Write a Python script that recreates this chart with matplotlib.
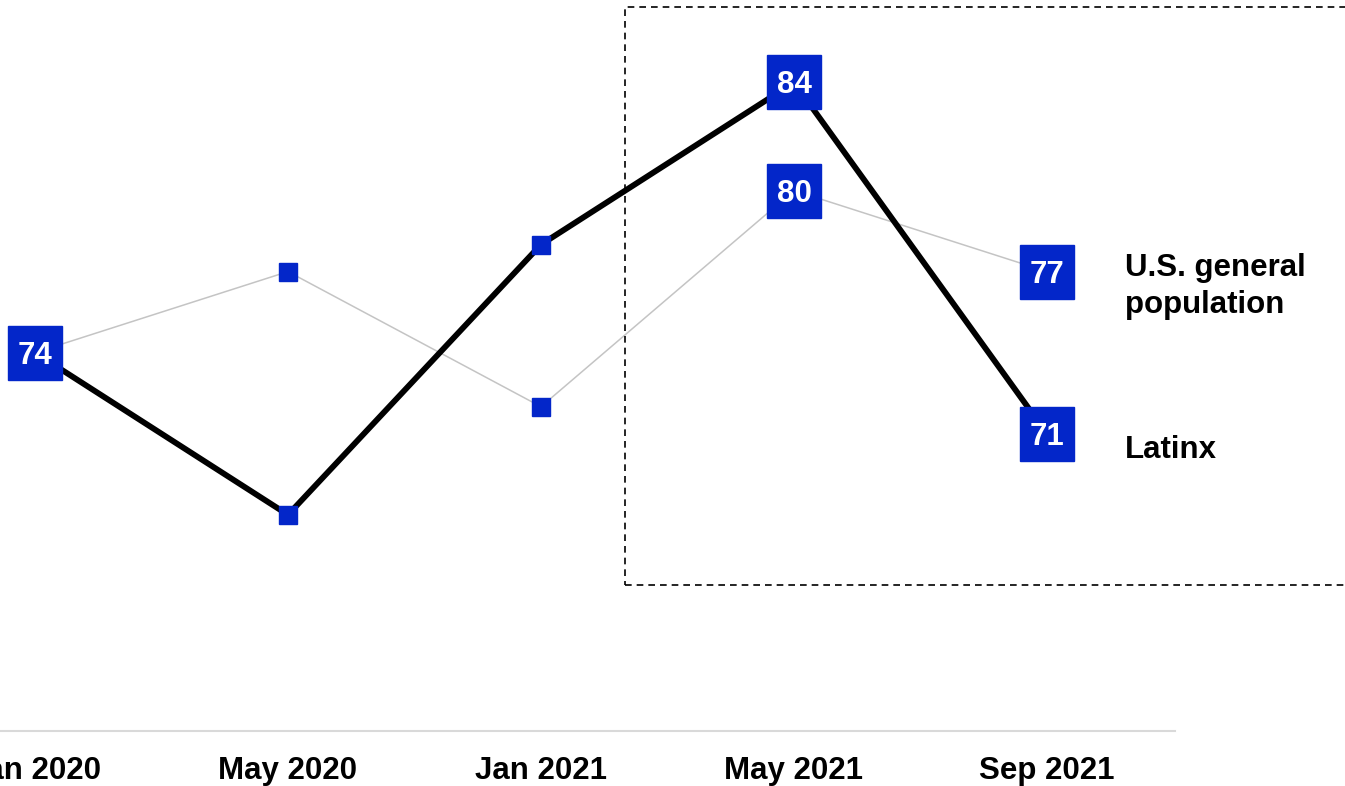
import matplotlib
matplotlib.use("Agg")
import matplotlib.pyplot as plt
from matplotlib.patches import Rectangle
from matplotlib.transforms import offset_copy

plt.rcParams['font.family'] = ['Liberation Sans', 'DejaVu Sans']

categories = ["Jan 2020", "May 2020", "Jan 2021", "May 2021", "Sep 2021"]
latinx = [74, 68, 78, 84, 71]
general = [74, 77, 72, 80, 77]
latinx_labeled = [0, 3, 4]
general_labeled = [3, 4]
series_names = ["U.S. general\npopulation", "Latinx"]

BLUE = "#0326C9"
W, H = 1345, 786
fig = plt.figure(figsize=(W / 100, H / 100), dpi=100)
ax = fig.add_axes([0, 55 / H, 1175 / W, 731 / H])

x = list(range(len(categories)))
ax.plot(x, general, color="#C4C4C4", lw=1.1, zorder=2)
ax.plot(x, latinx, color="black", lw=4.2, zorder=3, solid_capstyle="butt")

txt_tr = offset_copy(ax.transData, fig=fig, x=0, y=-3, units="dots")
for series, labeled in ((general, general_labeled), (latinx, latinx_labeled)):
    for i, v in enumerate(series):
        if i in labeled:
            ax.plot(i, v, marker="s", ms=39, color=BLUE, mec=BLUE, zorder=5, clip_on=False)
            ax.text(i, v, f"{v}", color="white", fontsize=22.5, fontweight="bold",
                    ha="center", va="center", zorder=6, clip_on=False, transform=txt_tr)
        else:
            ax.plot(i, v, marker="s", ms=13.5, color=BLUE, mec=BLUE, zorder=4, clip_on=False)

ax.text(4.308, 76.45, series_names[0], fontsize=22.5, fontweight="bold",
        ha="left", va="center", linespacing=1.3, clip_on=False)
ax.text(4.308, 70.4, series_names[1], fontsize=22.5, fontweight="bold",
        ha="left", va="center", clip_on=False)

ax.set_xlim(-35 / 253, -35 / 253 + 1175 / 253)
ax.set_ylim(60, 87.05)
ax.set_xticks(x)
ax.set_xticklabels(categories, fontsize=22.5, fontweight="bold")
ax.tick_params(axis="x", length=0, pad=18)
ax.set_yticks([])
for s in ("left", "right", "top"):
    ax.spines[s].set_visible(False)
ax.spines["bottom"].set_color("#D9D9D9")
ax.spines["bottom"].set_linewidth(1.5)

fig.patches.append(Rectangle((625 / W, (H - 585) / H), (W - 625 + 20) / W, (585 - 7) / H,
                             transform=fig.transFigure, fill=False, edgecolor="black",
                             lw=1.2, linestyle=(0, (4, 3))))

fig.savefig("out.png", dpi=100)
